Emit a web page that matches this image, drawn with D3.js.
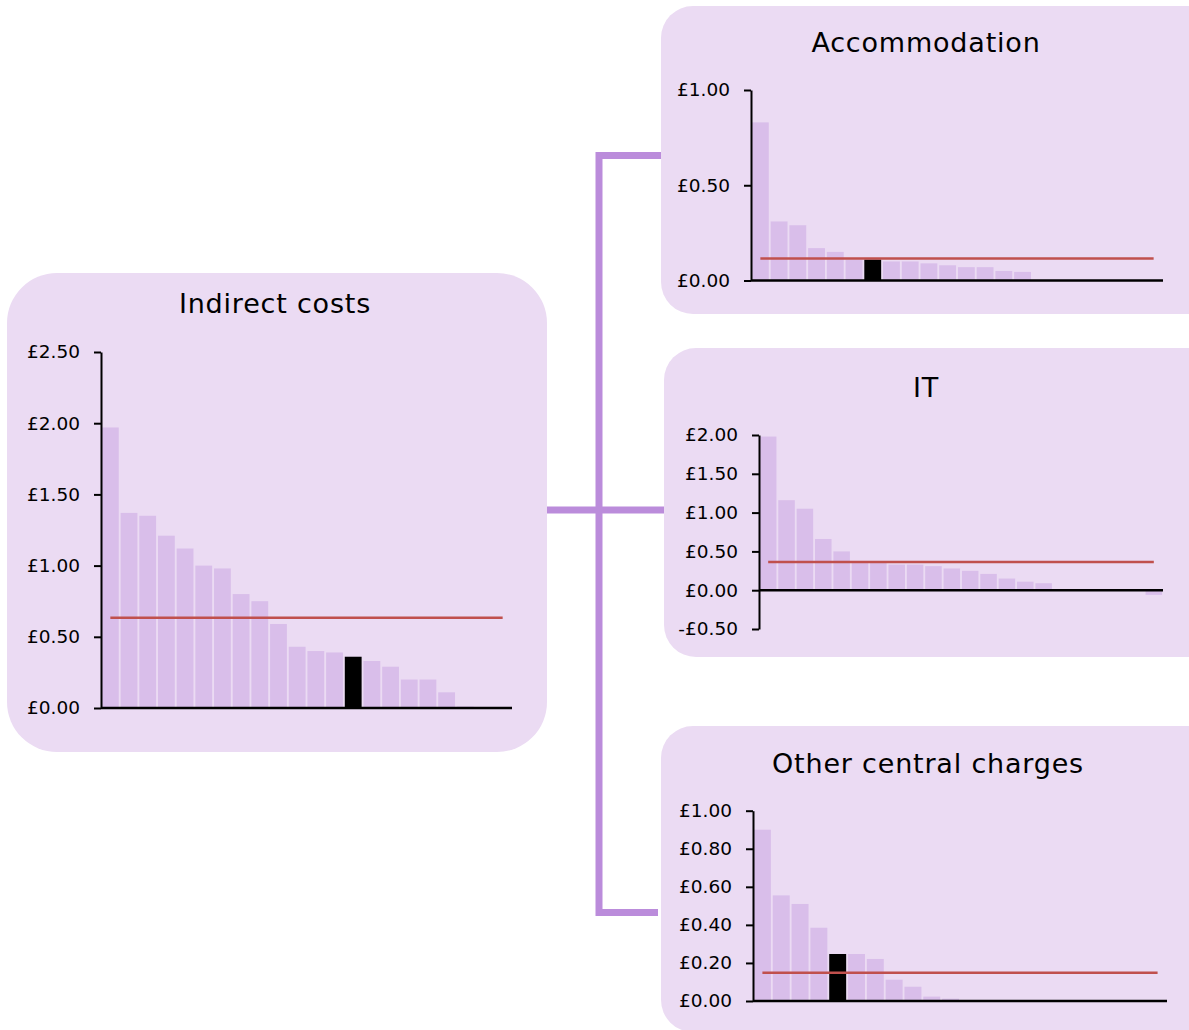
<!DOCTYPE html>
<html>
<head>
<meta charset="utf-8">
<script src="https://cdn.jsdelivr.net/npm/d3@7"></script>
<style>
  html, body { margin: 0; padding: 0; background: #ffffff; }
  svg { display: block; }
  text { font-family: Verdana, "DejaVu Sans", sans-serif; fill: #000; }
</style>
</head>
<body>
<svg id="chart" width="1189" height="1030"></svg>
<script>
// ---- Data ----
const categories = ["P01","P02","P03","P04","P05","P06","P07","P08","P09","P10","P11",
                    "P12","P13","P14","P15","P16","P17","P18","P19","P20","P21","P22"];

const indirectValues = [1.97,1.37,1.35,1.21,1.12,1.00,0.98,0.80,0.75,0.59,0.43,
                        0.40,0.39,0.36,0.33,0.29,0.20,0.20,0.11,0.01,0,0];
const indirectAverage = 0.634;
const indirectHighlight = "P14";
const indirectTicks = [0,0.5,1,1.5,2,2.5];

const accommodationValues = [0.83,0.31,0.29,0.17,0.15,0.11,0.11,0.10,0.10,0.09,0.08,
                             0.07,0.07,0.05,0.045,0,0,0,0,0,0,0];
const accommodationAverage = 0.116;
const accommodationHighlight = "P07";
const accommodationTicks = [0,0.5,1];

const itValues = [1.98,1.16,1.05,0.66,0.50,0.35,0.35,0.33,0.33,0.31,0.28,
                  0.25,0.21,0.15,0.11,0.09,0,0,0,0,0,-0.06];
const itAverage = 0.365;
const itHighlight = null;
const itTicks = [-0.5,0,0.5,1,1.5,2];

const otherValues = [0.90,0.555,0.51,0.385,0.247,0.247,0.221,0.112,0.075,0.023,0.012,
                     0,0,0,0,0,0,0,0,0,0,0];
const otherAverage = 0.149;
const otherHighlight = "P05";
const otherTicks = [0,0.2,0.4,0.6,0.8,1];

const titles = ["Indirect costs","Accommodation","IT","Other central charges"];

// ---- Styles ----
const panelFill = "#EBDBF3";
const barFill = "#D9BEEA";
const highlightFill = "#000000";
const avgColor = "#C0504D";
const connectorColor = "#BB8CDB";

const svg = d3.select("#chart");

// connectors (drawn beneath panels)
svg.append("path")
  .attr("d", "M661,155.5 H599 V912.5 H658")
  .attr("fill","none").attr("stroke",connectorColor).attr("stroke-width",7)
  .attr("stroke-linejoin","miter");
svg.append("path")
  .attr("d", "M545,510 H665")
  .attr("fill","none").attr("stroke",connectorColor).attr("stroke-width",7);

const panels = [
  { title: titles[0], values: indirectValues, avg: indirectAverage, hl: indirectHighlight, ticks: indirectTicks,
    box: {x:7, y:273, w:540, h:479, r:50}, titleX: 275, titleY: 313,
    x0: 101, x1: 512, yTop: 352, yBottom: 708, domain: [0,2.5] },
  { title: titles[1], values: accommodationValues, avg: accommodationAverage, hl: accommodationHighlight, ticks: accommodationTicks,
    box: {x:661, y:6, w:560, h:308, r:32}, titleX: 926, titleY: 52,
    x0: 751, x1: 1163, yTop: 90, yBottom: 280.5, domain: [0,1] },
  { title: titles[2], values: itValues, avg: itAverage, hl: itHighlight, ticks: itTicks,
    box: {x:664, y:348, w:556, h:309, r:32}, titleX: 926, titleY: 397,
    x0: 759, x1: 1163, yTop: 435, yBottom: 629, domain: [-0.5,2] },
  { title: titles[3], values: otherValues, avg: otherAverage, hl: otherHighlight, ticks: otherTicks,
    box: {x:661, y:726, w:560, h:306, r:32}, titleX: 928, titleY: 773,
    x0: 753, x1: 1167, yTop: 810.7, yBottom: 1001, domain: [0,1] }
];

const money = v => (v < 0 ? "-£" : "£") + d3.format(".2f")(Math.abs(v));

panels.forEach(p => {
  const g = svg.append("g");
  g.append("rect")
    .attr("x", p.box.x).attr("y", p.box.y)
    .attr("width", p.box.w).attr("height", p.box.h)
    .attr("rx", p.box.r).attr("ry", p.box.r)
    .attr("fill", panelFill);

  g.append("text")
    .attr("x", p.titleX).attr("y", p.titleY)
    .attr("text-anchor","middle")
    .style("font-size","27px")
    .style("letter-spacing","0.8px")
    .text(p.title);

  const x = d3.scaleBand().domain(categories).range([p.x0, p.x1])
              .paddingInner(0.1).paddingOuter(0.05);
  const y = d3.scaleLinear().domain(p.domain).range([p.yBottom, p.yTop]);

  const data = categories.map((c,i) => ({c, v: p.values[i]}));

  g.selectAll("rect.bar").data(data.filter(d => d.v !== 0)).join("rect")
    .attr("class","bar")
    .attr("x", d => x(d.c))
    .attr("width", x.bandwidth())
    .attr("y", d => Math.min(y(0), y(d.v)))
    .attr("height", d => Math.abs(y(d.v) - y(0)))
    .attr("fill", d => d.c === p.hl ? highlightFill : barFill);

  // average line
  g.append("line")
    .attr("x1", x(categories[0]) + x.bandwidth()/2)
    .attr("x2", x(categories[categories.length-1]) + x.bandwidth()/2)
    .attr("y1", y(p.avg)).attr("y2", y(p.avg))
    .attr("stroke", avgColor).attr("stroke-width", 2.5);

  // y axis
  const yAxis = d3.axisLeft(y).tickValues(p.ticks).tickFormat(money)
                  .tickSizeInner(7).tickSizeOuter(0).tickPadding(14);
  const ya = g.append("g").attr("transform", `translate(${p.x0},0)`).call(yAxis);
  ya.select(".domain").attr("stroke","#000").attr("stroke-width",2);
  ya.selectAll(".tick line").attr("stroke","#000").attr("stroke-width",2);
  ya.selectAll(".tick text")
    .style("font-family","Verdana, 'DejaVu Sans', sans-serif")
    .style("font-size","18.5px").attr("fill","#000");

  // x axis line at zero
  const xAxis = d3.axisBottom(x).tickSize(0).tickFormat("").tickSizeOuter(0);
  const xa = g.append("g").attr("transform", `translate(0,${y(0)})`).call(xAxis);
  xa.select(".domain").attr("stroke","#000").attr("stroke-width",2.5)
    .attr("d", `M${p.x0},0H${p.x1}`);
  xa.selectAll(".tick").remove();
});
</script>
</body>
</html>
